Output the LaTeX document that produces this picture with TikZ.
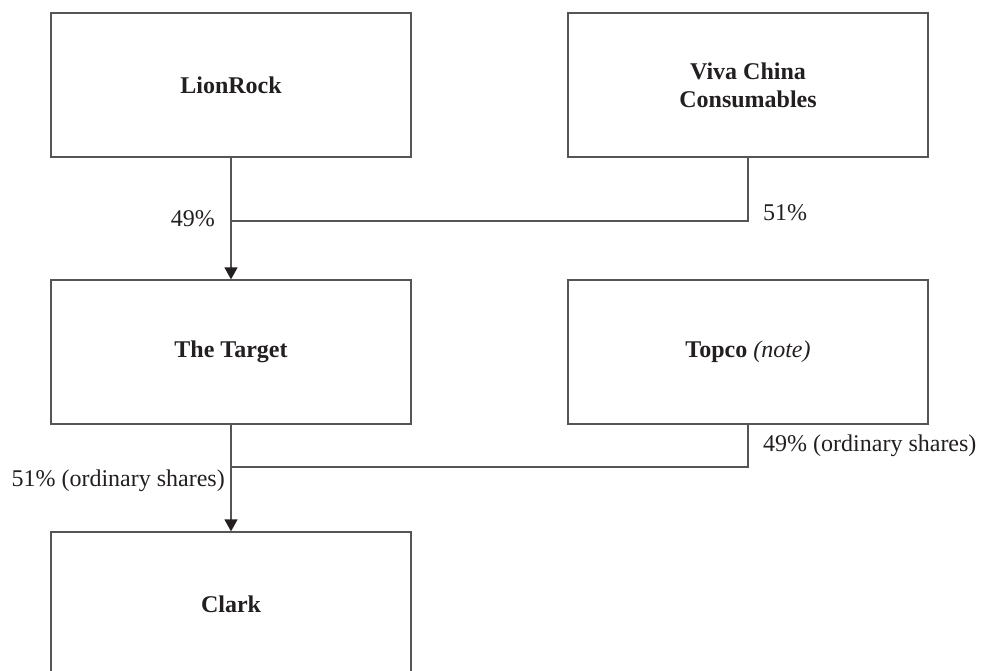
\documentclass[tikz,border=0pt]{standalone}
\usepackage{fontspec}
\setmainfont{Liberation Serif}
\usetikzlibrary{arrows.meta}
\definecolor{ink}{HTML}{231F20}
\definecolor{linec}{HTML}{555555}
\begin{document}
\begin{tikzpicture}[x=1pt,y=-1pt,
  entity/.style={draw=linec, line width=1.3pt, minimum width=360pt, minimum height=144pt,
    inner sep=0pt, align=center, text=ink, font=\fontsize{24}{28}\selectfont\bfseries},
  conn/.style={draw=linec, line width=1.3pt},
  arr/.style={conn, -{Triangle[width=13pt,length=12pt,color=ink]}},
  pct/.style={text=ink, font=\fontsize{24}{28}\selectfont, inner sep=0pt}]
\useasboundingbox (0,0) rectangle (981,670);
\node[entity] (lion)   at (231,85)  {LionRock};
\node[entity] (viva)   at (748,85)  {Viva China\\Consumables};
\node[entity] (target) at (231,352) {The Target};
\node[entity] (topco)  at (748,352) {Topco \textmd{\itshape(note)}};
\node[entity] (clark)  at (231,604) {Clark};
\coordinate (j1) at (231,221);
\coordinate (j2) at (231,467);
\draw[arr] (lion.south) -- (target.north);
\draw[conn] (viva.south) |- (j1);
\draw[arr] (target.south) -- (clark.north);
\draw[conn] (topco.south) |- (j2);
\node[pct, anchor=east] (l49) at (215,219) {49\%};
\node[pct, anchor=west] (l51) at (763,213) {51\%};
\node[pct, anchor=east] (l51o) at (225,481) {51\% (ordinary shares)};
\node[pct, anchor=west] (l49o) at (763,446) {49\% (ordinary shares)};
\end{tikzpicture}
\end{document}
